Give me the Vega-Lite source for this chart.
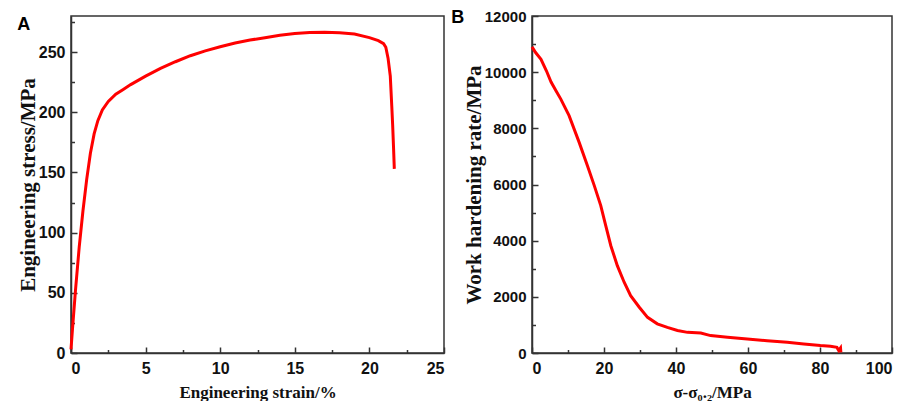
{
  "$schema": "https://vega.github.io/schema/vega-lite/v6.json",
  "padding": {"left": 16, "top": 8, "right": 5, "bottom": 0},
  "background": "white",
  "spacing": 4,
  "config": {
    "view": {"stroke": "#333", "strokeWidth": 1.5},
    "axis": {
      "grid": false,
      "domainColor": "#333",
      "domainWidth": 1.5,
      "tickColor": "#333",
      "tickWidth": 1.5,
      "labelFont": "Liberation Sans",
      "labelFontWeight": "bold",
      "labelFontSize": 16,
      "labelColor": "#111",
      "titleFont": "Liberation Serif",
      "titleFontWeight": "bold",
      "titleColor": "#111"
    },
    "axisX": {"titleFontSize": 17, "labelPadding": 7, "titlePadding": 8},
    "axisY": {"titleFontSize": 21, "labelPadding": 6, "titlePadding": 0},
    "title": {"font": "Liberation Sans", "fontSize": 18, "fontWeight": "bold", "anchor": "start", "frame": "bounds", "color": "#000", "offset": -18}
  },
  "hconcat": [
    {
      "title": "A",
      "width": 373,
      "height": 337,
      "data": {"values": [
        {"strain": 0.0, "stress": 3},
        {"strain": 0.1, "stress": 20},
        {"strain": 0.3, "stress": 52},
        {"strain": 0.55, "stress": 88},
        {"strain": 0.8, "stress": 118},
        {"strain": 1.05, "stress": 144},
        {"strain": 1.3, "stress": 166},
        {"strain": 1.55, "stress": 182},
        {"strain": 1.8, "stress": 193},
        {"strain": 2.1, "stress": 202},
        {"strain": 2.5, "stress": 209},
        {"strain": 3.0, "stress": 215},
        {"strain": 3.5, "stress": 219},
        {"strain": 4.0, "stress": 223},
        {"strain": 5.0, "stress": 230},
        {"strain": 6.0, "stress": 236.5},
        {"strain": 7.0, "stress": 242},
        {"strain": 8.0, "stress": 247},
        {"strain": 9.0, "stress": 251},
        {"strain": 10.0, "stress": 254.5},
        {"strain": 11.0, "stress": 257.5},
        {"strain": 12.0, "stress": 260},
        {"strain": 13.0, "stress": 262},
        {"strain": 14.0, "stress": 264},
        {"strain": 15.0, "stress": 265.5},
        {"strain": 16.0, "stress": 266.2},
        {"strain": 17.0, "stress": 266.4},
        {"strain": 18.0, "stress": 266},
        {"strain": 19.0, "stress": 265},
        {"strain": 20.0, "stress": 262},
        {"strain": 20.6, "stress": 259.5},
        {"strain": 20.95, "stress": 257},
        {"strain": 21.1, "stress": 254},
        {"strain": 21.25, "stress": 245},
        {"strain": 21.4, "stress": 230},
        {"strain": 21.5, "stress": 205},
        {"strain": 21.56, "stress": 189},
        {"strain": 21.62, "stress": 170},
        {"strain": 21.67, "stress": 153}
      ]},
      "layer": [
        {
          "mark": {"type": "line", "color": "#ff0000", "strokeWidth": 3},
          "encoding": {
            "x": {
              "field": "strain", "type": "quantitative",
              "scale": {"domain": [0, 25], "nice": false, "zero": false},
              "axis": {"title": "Engineering strain/%", "values": [0, 5, 10, 15, 20, 25], "format": "d", "ticks": false}
            },
            "y": {
              "field": "stress", "type": "quantitative",
              "scale": {"domain": [0, 280], "nice": false},
              "axis": {"title": "Engineering stress/MPa", "values": [0, 50, 100, 150, 200, 250], "format": "d", "ticks": false}
            }
          }
        },
        {
          "mark": {"type": "line", "opacity": 0},
          "encoding": {
            "x": {
              "field": "strain", "type": "quantitative",
              "axis": {
                "orient": "top", "offset": -337, "title": null, "labels": false, "domain": false,
                "values": [0, 2.5, 5, 7.5, 10, 12.5, 15, 17.5, 20, 22.5, 25],
                "tickSize": {"condition": {"test": "datum.value % 5 === 0", "value": 6}, "value": 3.5}
              }
            },
            "y": {
              "field": "stress", "type": "quantitative",
              "axis": {
                "orient": "right", "offset": -373, "title": null, "labels": false, "domain": false,
                "values": [0, 25, 50, 75, 100, 125, 150, 175, 200, 225, 250, 275],
                "tickSize": {"condition": {"test": "datum.value % 50 === 0", "value": 6}, "value": 3.5}
              }
            }
          }
        }
      ],
      "resolve": {"axis": {"x": "independent", "y": "independent"}}
    },
    {
      "title": {"text": "B", "dx": -12},
      "width": 360,
      "height": 337,
      "data": {"values": [
        {"ds": 0.0, "theta": 10900},
        {"ds": 1.0, "theta": 10700},
        {"ds": 2.5, "theta": 10460},
        {"ds": 4.0, "theta": 10050},
        {"ds": 5.3, "theta": 9650},
        {"ds": 6.7, "theta": 9330},
        {"ds": 8.0, "theta": 9040},
        {"ds": 10.3, "theta": 8450},
        {"ds": 13.1, "theta": 7500},
        {"ds": 15.4, "theta": 6670},
        {"ds": 17.3, "theta": 5960},
        {"ds": 19.1, "theta": 5250},
        {"ds": 20.5, "theta": 4530},
        {"ds": 21.9, "theta": 3820},
        {"ds": 23.7, "theta": 3110},
        {"ds": 25.6, "theta": 2520},
        {"ds": 27.4, "theta": 2040},
        {"ds": 29.8, "theta": 1630},
        {"ds": 32.1, "theta": 1270},
        {"ds": 34.8, "theta": 1040},
        {"ds": 37.6, "theta": 910},
        {"ds": 40.4, "theta": 800},
        {"ds": 43.2, "theta": 735},
        {"ds": 46.9, "theta": 710},
        {"ds": 49.6, "theta": 620},
        {"ds": 54.3, "theta": 560},
        {"ds": 59.8, "theta": 500},
        {"ds": 65.3, "theta": 440},
        {"ds": 70.9, "theta": 380},
        {"ds": 75.5, "theta": 320},
        {"ds": 80.1, "theta": 265},
        {"ds": 82.9, "theta": 240},
        {"ds": 84.7, "theta": 200},
        {"ds": 85.2, "theta": 90},
        {"ds": 85.7, "theta": 180},
        {"ds": 85.8, "theta": 20}
      ]},
      "layer": [
        {
          "mark": {"type": "line", "color": "#ff0000", "strokeWidth": 3},
          "encoding": {
            "x": {
              "field": "ds", "type": "quantitative",
              "scale": {"domain": [0, 100], "nice": false},
              "axis": {"title": "σ-σ₀.₂/MPa", "values": [0, 20, 40, 60, 80, 100], "format": "d", "ticks": false}
            },
            "y": {
              "field": "theta", "type": "quantitative",
              "scale": {"domain": [0, 12000], "nice": false},
              "axis": {"title": "Work hardening rate/MPa", "values": [0, 2000, 4000, 6000, 8000, 10000, 12000], "format": "d", "labelFontSize": 15, "ticks": false}
            }
          }
        },
        {
          "mark": {"type": "line", "opacity": 0},
          "encoding": {
            "x": {
              "field": "ds", "type": "quantitative",
              "axis": {
                "orient": "top", "offset": -337, "title": null, "labels": false, "domain": false,
                "values": [0, 10, 20, 30, 40, 50, 60, 70, 80, 90, 100],
                "tickSize": {"condition": {"test": "datum.value % 20 === 0", "value": 6}, "value": 3.5}
              }
            },
            "y": {
              "field": "theta", "type": "quantitative",
              "axis": {
                "orient": "right", "offset": -360, "title": null, "labels": false, "domain": false,
                "values": [0, 1000, 2000, 3000, 4000, 5000, 6000, 7000, 8000, 9000, 10000, 11000, 12000],
                "tickSize": {"condition": {"test": "datum.value % 2000 === 0", "value": 6}, "value": 3.5}
              }
            }
          }
        }
      ],
      "resolve": {"axis": {"x": "independent", "y": "independent"}}
    }
  ]
}
